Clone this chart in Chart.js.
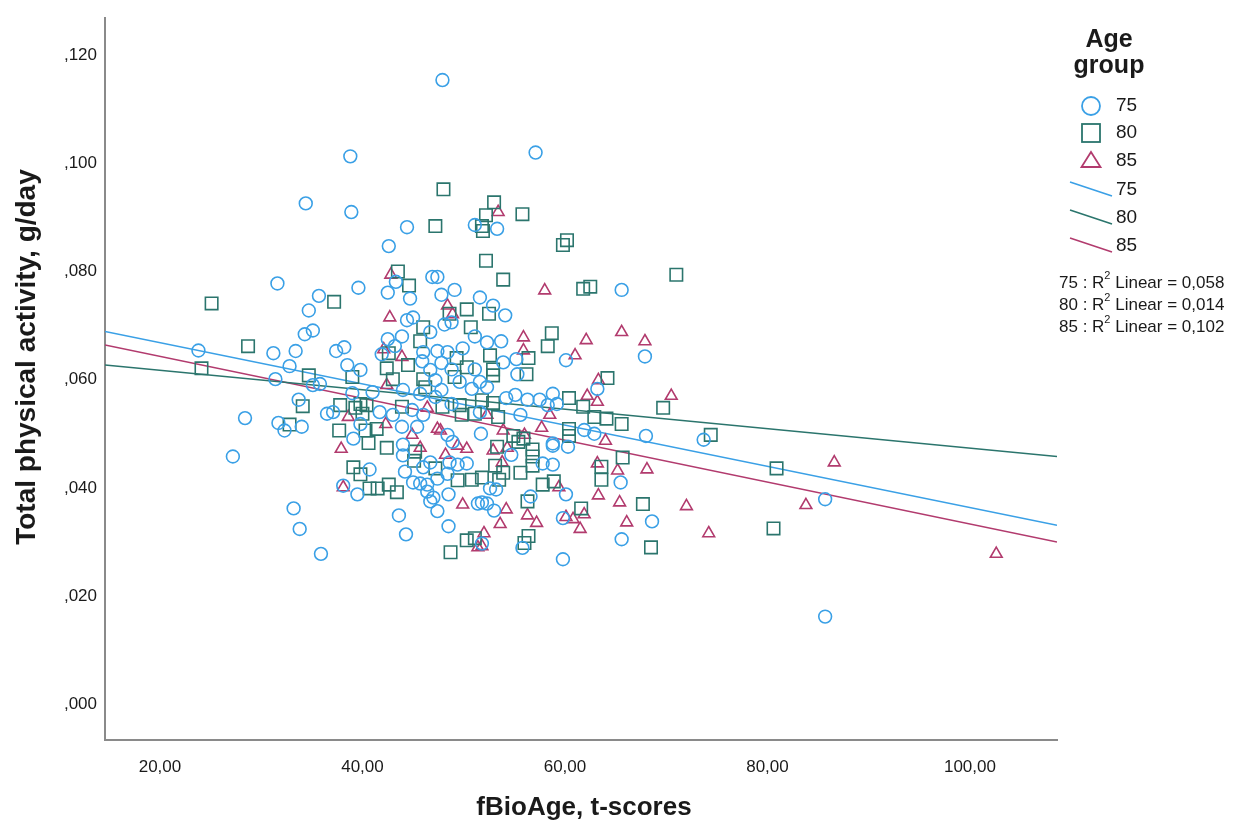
<!DOCTYPE html>
<html lang="en">
<head>
    <meta charset="UTF-8">
    <title>Total physical activity vs fBioAge</title>
    <script src="https://cdn.jsdelivr.net/npm/chart.js"></script>
    <style>
        html, body { margin: 0; padding: 0; background: #fff; }
    </style>
</head>
<body>
    <canvas id="chartAtividade" width="1249" height="824"></canvas>

    <script>
        // age groups and their fit statistics
        const groups = ['75', '80', '85'];
        const r2Values = ['0,058', '0,014', '0,102'];

        // tick values (labels formatted SPSS style: ,120 and 20,00)
        const xTickValues = [20, 40, 60, 80, 100];
        const yTickValues = [0, 0.02, 0.04, 0.06, 0.08, 0.10, 0.12];

        // points: [fBioAge, activity]
        const pts75 = [
            [47.9,0.1154],[38.8,0.1013],[57.1,0.1020],[34.4,0.0926],[38.9,0.0910],[42.6,0.0847],[44.4,0.0882],[51.1,0.0886],[53.3,0.0879],
            [31.6,0.0778],[65.6,0.0766],[39.6,0.0770],[35.7,0.0755],[34.7,0.0728],[27.2,0.0458],[28.4,0.0529],[23.8,0.0654],[31.2,0.0649],
            [31.4,0.0601],[31.7,0.0520],[33.4,0.0653],[33.2,0.0362],[33.8,0.0324],[35.9,0.0278],[85.7,0.0379],[85.7,0.0162],[59.8,0.0268],
            [44.3,0.0314],[43.6,0.0349],[48.5,0.0329],[55.8,0.0289],[65.6,0.0305],[68.6,0.0338],[68.0,0.0496],[67.9,0.0643],[73.7,0.0489],
            [65.5,0.0410],
            [34.3,0.0684],[35.1,0.0691],[37.4,0.0653],[38.2,0.0660],[38.5,0.0627],[32.8,0.0625],[35.8,0.0592],[35.1,0.0590],[39.0,0.0575],
            [33.7,0.0563],[36.5,0.0537],[37.1,0.0540],[32.3,0.0506],[34.0,0.0513],[39.1,0.0491],[38.1,0.0404],[39.5,0.0388],
            [46.9,0.0790],[47.4,0.0790],[43.3,0.0781],[42.5,0.0761],[44.7,0.0750],[47.8,0.0757],[49.1,0.0766],[44.4,0.0710],
            [45.0,0.0715],[48.1,0.0702],[48.8,0.0706],[42.5,0.0675],[43.9,0.0680],[46.7,0.0688],[51.1,0.0680],[41.9,0.0647],[43.2,0.0662],
            [46.0,0.0651],[47.4,0.0653],[48.4,0.0651],[49.9,0.0658],[45.9,0.0634],[47.8,0.0631],[39.8,0.0618],[46.7,0.0618],[48.8,0.0619],
            [51.1,0.0619],[47.2,0.0599],[49.6,0.0596],[47.8,0.0581],[50.8,0.0583],[41.0,0.0577],[44.0,0.0581],[45.7,0.0574],[47.2,0.0568],
            [48.8,0.0555],[44.9,0.0544],[41.7,0.0540],[43.0,0.0535],[46.0,0.0535],[39.8,0.0518],[43.9,0.0513],[45.4,0.0513],[48.4,0.0498],
            [44.0,0.0480],[48.9,0.0485],
            [44.0,0.0460],[46.7,0.0447],[46.0,0.0438],[48.6,0.0447],[49.4,0.0443],[50.3,0.0445],[40.7,0.0434],[44.2,0.0430],[47.4,0.0417],
            [48.4,0.0426],[45.0,0.0410],[45.7,0.0408],[46.4,0.0406],[46.4,0.0393],[47.0,0.0382],[46.7,0.0375],[48.5,0.0388],
            [51.4,0.0371],[47.4,0.0357],
            [54.7,0.0461],[58.8,0.0478],[60.3,0.0476],[57.8,0.0445],[58.8,0.0443],[60.1,0.0388],[52.6,0.0399],[53.2,0.0397],[56.6,0.0384],
            [51.8,0.0373],[52.3,0.0371],[53.0,0.0358],[59.8,0.0344],[51.8,0.0297],
            [51.6,0.0752],[52.9,0.0737],[54.1,0.0719],[52.3,0.0669],[53.7,0.0671],[60.1,0.0636],[53.9,0.0632],[55.2,0.0638],[55.3,0.0610],
            [51.6,0.0596],[52.3,0.0586],[63.2,0.0583],[54.2,0.0566],[55.1,0.0572],[56.3,0.0563],[57.5,0.0563],[58.8,0.0574],[58.3,0.0553],
            [59.2,0.0555],[55.6,0.0535],[51.6,0.0540],[51.7,0.0500],[58.8,0.0482],[61.9,0.0507],[62.9,0.0500]
        ];

        const pts80 = [
            [71.0,0.0794],[80.9,0.0436],[80.6,0.0325],[64.2,0.0603],[69.7,0.0548],[64.1,0.0528],[65.6,0.0518],[74.4,0.0498],[65.7,0.0456],
            [63.6,0.0439],[63.6,0.0415],[67.7,0.0370],[68.5,0.0290],
            [25.1,0.0741],[37.2,0.0744],[28.7,0.0662],[24.1,0.0621],[34.7,0.0608],[39.0,0.0605],[34.1,0.0551],[37.8,0.0553],[39.3,0.0548],
            [32.8,0.0517],[37.7,0.0506],[39.1,0.0438],
            [44.6,0.0774],[50.3,0.0730],[48.6,0.0722],[46.0,0.0697],[50.7,0.0697],[45.7,0.0671],[42.6,0.0649],[49.3,0.0640],[42.4,0.0621],
            [44.5,0.0627],[50.3,0.0623],[43.0,0.0601],[46.0,0.0601],[49.1,0.0605],[46.2,0.0586],[39.8,0.0555],[40.4,0.0553],[43.9,0.0550],
            [47.9,0.0550],[49.6,0.0553],[40.0,0.0537],[49.8,0.0535],[51.1,0.0537],[41.4,0.0509],[40.3,0.0506],[40.6,0.0483],[42.4,0.0474],
            [45.2,0.0467],[45.1,0.0450],[47.2,0.0436],[39.8,0.0425],[49.4,0.0414],[50.8,0.0415],[40.7,0.0399],[41.5,0.0399],
            [42.6,0.0406],[43.4,0.0392],[50.3,0.0303],[51.1,0.0307],[48.7,0.0281],
            [56.8,0.0471],[56.8,0.0458],[53.1,0.0441],[53.9,0.0428],[56.8,0.0441],[55.6,0.0428],[51.8,0.0419],[53.5,0.0415],
            [57.8,0.0406],[58.9,0.0412],[56.3,0.0375],[61.6,0.0362],[56.4,0.0311],[56.0,0.0298],
            [53.9,0.0785],[61.8,0.0768],[62.5,0.0772],[52.5,0.0722],[58.7,0.0686],[58.3,0.0662],[52.6,0.0645],[56.4,0.0640],[52.9,0.0619],
            [52.9,0.0608],[56.2,0.0610],[60.4,0.0566],[52.9,0.0557],[51.8,0.0562],[61.8,0.0550],[62.9,0.0531],[53.4,0.0531],[54.9,0.0496],
            [55.4,0.0485],[55.9,0.0491],[60.4,0.0509],[60.4,0.0496],[53.3,0.0476],
            [48.0,0.0952],[53.0,0.0928],[55.8,0.0906],[47.2,0.0884],[52.2,0.0904],[51.8,0.0884],[51.9,0.0875],[52.2,0.0820],[59.8,0.0849],
            [60.2,0.0858],[43.5,0.0800]
        ];

        const pts85 = [
            [65.6,0.0688],[67.9,0.0671],[70.5,0.0570],[64.0,0.0487],[65.2,0.0432],[68.1,0.0434],[65.4,0.0373],[72.0,0.0366],
            [66.1,0.0336],[74.2,0.0316],[86.6,0.0447],[83.8,0.0368],[102.6,0.0278],
            [37.9,0.0472],[38.1,0.0401],[38.6,0.0531],
            [42.8,0.0794],[48.4,0.0737],[48.9,0.0721],[42.7,0.0715],[42.1,0.0656],[43.9,0.0642],[42.4,0.0590],[46.4,0.0548],[42.3,0.0518],
            [47.4,0.0509],[47.7,0.0506],[44.9,0.0498],[45.7,0.0474],
            [48.2,0.0461],[49.4,0.0478],[50.3,0.0472],[49.9,0.0369],[51.4,0.0290],
            [52.9,0.0469],[54.3,0.0474],[53.8,0.0447],[63.2,0.0445],[59.4,0.0401],[63.3,0.0386],[54.2,0.0360],[56.3,0.0349],[57.2,0.0335],
            [60.1,0.0346],[60.8,0.0342],[61.9,0.0351],[53.6,0.0333],[61.5,0.0324],[52.0,0.0316],[51.8,0.0292],
            [58.0,0.0765],[55.9,0.0678],[55.9,0.0654],[62.1,0.0673],[61.0,0.0645],[63.3,0.0599],[62.2,0.0570],[63.2,0.0559],[58.5,0.0535],
            [52.3,0.0535],[53.9,0.0506],[56.0,0.0498],[57.7,0.0511],
            [53.4,0.0910]
        ];

        // linear fit lines, read at both ends of the x axis
        const fitX = [14.57, 108.6];
        const fit75 = [0.0689, 0.0331];
        const fit80 = [0.0627, 0.0458];
        const fit85 = [0.0664, 0.0300];

        const cores = ['#3aa0e6', '#2b756d', '#b23b6e'];
        const fonte = "'Liberation Sans', Arial, sans-serif";

        function paraPontos(lista) {
            return lista.map(p => ({ x: p[0], y: p[1] }));
        }

        function paraLinha(ys) {
            return fitX.map((x, i) => ({ x: x, y: ys[i] }));
        }

        // titles of the axes and the legend on the right side
        const legendaPlugin = {
            id: 'legendaLateral',
            afterDraw(chart) {
                const ctx = chart.ctx;
                ctx.save();
                ctx.fillStyle = '#1a1a1a';

                // axis titles
                ctx.textAlign = 'center';
                ctx.textBaseline = 'middle';
                ctx.font = 'bold 26px ' + fonte;
                ctx.fillText('fBioAge, t-scores', 584, 808);
                ctx.save();
                ctx.translate(27, 357);
                ctx.rotate(-Math.PI / 2);
                ctx.font = 'bold 28px ' + fonte;
                ctx.fillText('Total physical activity, g/day', 0, 0);
                ctx.restore();

                // legend title
                ctx.font = 'bold 25px ' + fonte;
                ctx.textBaseline = 'alphabetic';
                ctx.fillText('Age', 1109, 47);
                ctx.fillText('group', 1109, 73);

                // markers
                ctx.lineWidth = 1.8;
                ctx.strokeStyle = cores[0];
                ctx.beginPath();
                ctx.arc(1091, 106, 9, 0, Math.PI * 2);
                ctx.stroke();
                ctx.strokeStyle = cores[1];
                ctx.strokeRect(1082, 124, 18, 18);
                ctx.strokeStyle = cores[2];
                ctx.beginPath();
                ctx.moveTo(1091, 152);
                ctx.lineTo(1100.5, 167);
                ctx.lineTo(1081.5, 167);
                ctx.closePath();
                ctx.stroke();

                // fit line samples
                const linhasY = [182, 210, 238];
                ctx.lineWidth = 1.5;
                linhasY.forEach((y, i) => {
                    ctx.strokeStyle = cores[i];
                    ctx.beginPath();
                    ctx.moveTo(1070, y);
                    ctx.lineTo(1112, y + 14);
                    ctx.stroke();
                });

                ctx.font = '19px ' + fonte;
                ctx.textAlign = 'left';
                ctx.textBaseline = 'middle';
                ctx.fillStyle = '#1a1a1a';
                const rotulosY = [106, 133, 161, 190, 218, 246];
                rotulosY.forEach((y, i) => {
                    ctx.fillText(groups[i % 3], 1116, y);
                });

                // R2 text with superscript
                const r2Y = [283, 305, 327];
                r2Y.forEach((y, i) => {
                    let x = 1059;
                    ctx.font = '17px ' + fonte;
                    const parte1 = groups[i] + ' : R';
                    ctx.fillText(parte1, x, y);
                    x += ctx.measureText(parte1).width;
                    ctx.font = '11px ' + fonte;
                    ctx.fillText('2', x, y - 7);
                    x += ctx.measureText('2').width;
                    ctx.font = '17px ' + fonte;
                    ctx.fillText(' Linear = ' + r2Values[i], x, y);
                });

                ctx.restore();
            }
        };

        const ctxAtividade = document.getElementById('chartAtividade').getContext('2d');
        const chartAtividade = new Chart(ctxAtividade, {
            type: 'scatter',
            data: {
                datasets: [
                    { label: groups[0], data: paraPontos(pts75), pointStyle: 'circle', pointRadius: 6.4,
                      borderColor: cores[0], backgroundColor: 'rgba(0,0,0,0)', pointBorderWidth: 1.6 },
                    { label: groups[1], data: paraPontos(pts80), pointStyle: 'rect', pointRadius: 8.8,
                      borderColor: cores[1], backgroundColor: 'rgba(0,0,0,0)', pointBorderWidth: 1.6 },
                    { label: groups[2], data: paraPontos(pts85), pointStyle: 'triangle', pointRadius: 6.8,
                      borderColor: cores[2], backgroundColor: 'rgba(0,0,0,0)', pointBorderWidth: 1.6 },
                    { type: 'line', label: 'fit ' + groups[0], data: paraLinha(fit75), borderColor: cores[0],
                      borderWidth: 1.5, pointRadius: 0, fill: false },
                    { type: 'line', label: 'fit ' + groups[1], data: paraLinha(fit80), borderColor: cores[1],
                      borderWidth: 1.5, pointRadius: 0, fill: false },
                    { type: 'line', label: 'fit ' + groups[2], data: paraLinha(fit85), borderColor: cores[2],
                      borderWidth: 1.5, pointRadius: 0, fill: false }
                ]
            },
            options: {
                responsive: false,
                animation: false,
                devicePixelRatio: 1,
                layout: { padding: { top: 14, right: 192, left: 0, bottom: 0 } },
                plugins: {
                    legend: { display: false },
                    tooltip: { enabled: false }
                },
                scales: {
                    x: {
                        type: 'linear',
                        min: 14.57,
                        max: 108.6,
                        afterFit: (scale) => { scale.height = 84; },
                        afterBuildTicks: (scale) => { scale.ticks = xTickValues.map(v => ({ value: v })); },
                        grid: { display: false, drawTicks: false },
                        border: { display: true, color: '#8a8a8a', width: 2 },
                        ticks: {
                            padding: 17,
                            color: '#1a1a1a',
                            font: { family: fonte, size: 17 },
                            callback: (v) => v.toFixed(2).replace('.', ',')
                        }
                    },
                    y: {
                        type: 'linear',
                        min: -0.00662,
                        max: 0.12684,
                        afterFit: (scale) => { scale.width = 105; },
                        afterBuildTicks: (scale) => { scale.ticks = yTickValues.map(v => ({ value: v })); },
                        grid: { display: false, drawTicks: false },
                        border: { display: true, color: '#8a8a8a', width: 2 },
                        ticks: {
                            padding: 8,
                            color: '#1a1a1a',
                            font: { family: fonte, size: 17 },
                            callback: (v) => v.toFixed(3).replace('0.', ',')
                        }
                    }
                }
            },
            plugins: [legendaPlugin]
        });
    </script>
</body>
</html>
